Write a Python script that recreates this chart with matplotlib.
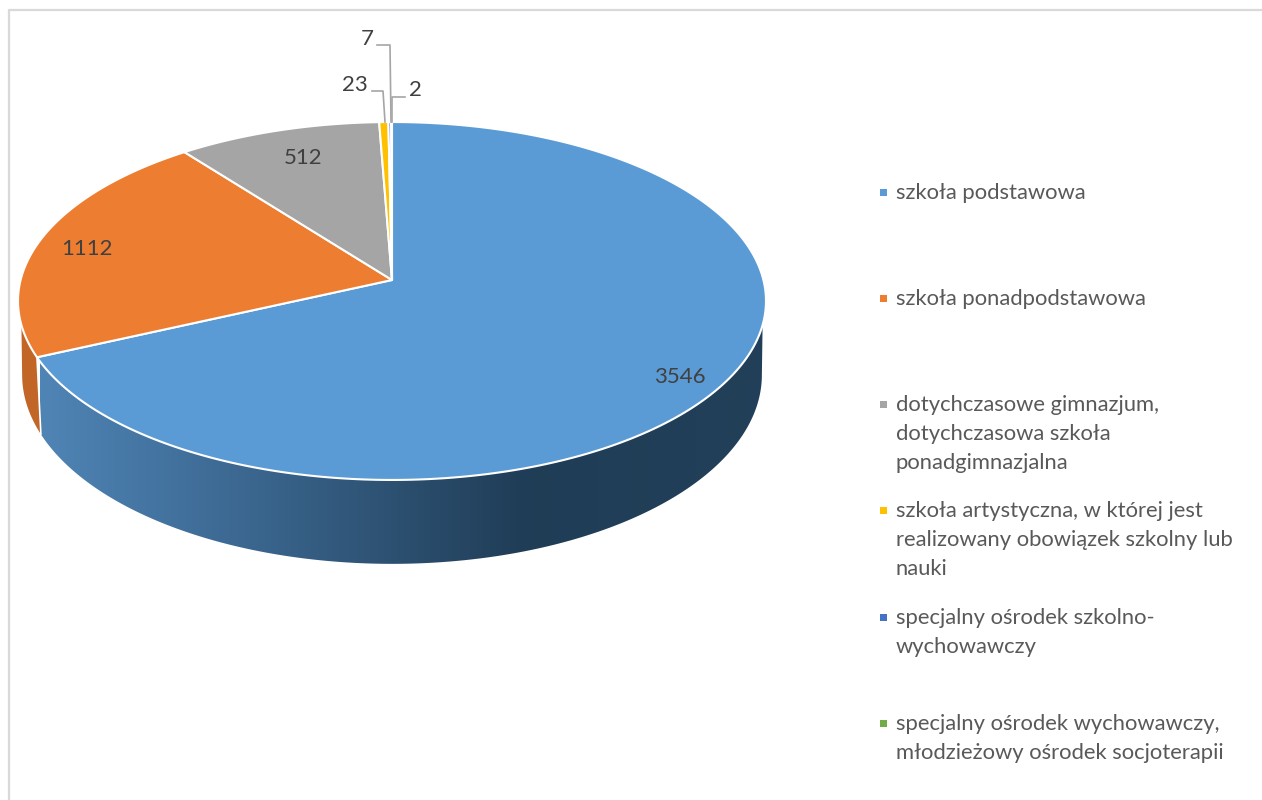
import numpy as np
import matplotlib
matplotlib.use("Agg")
import matplotlib.pyplot as plt
from matplotlib.patches import Polygon, Rectangle
from matplotlib.colors import to_rgb

categories = ["szkoła podstawowa", "szkoła ponadpodstawowa",
              "dotychczasowe gimnazjum,\ndotychczasowa szkoła\nponadgimnazjalna",
              "szkoła artystyczna, w której jest\nrealizowany obowiązek szkolny lub\nnauki",
              "specjalny ośrodek szkolno-\nwychowawczy",
              "specjalny ośrodek wychowawczy,\nmłodzieżowy ośrodek socjoterapii"]
values = [3546, 1112, 512, 23, 7, 2]
colors = ["#5B9BD5", "#ED7D31", "#A5A5A5", "#FFC000", "#4472C4", "#70AD47"]

FONT = "Lato"
fig = plt.figure(figsize=(12.62, 8), dpi=100)
ax = fig.add_axes([0, 0, 1, 1])
ax.axis("off")

# Perspective projection of the pie disc
CX, CY, A, B, K = 392.0, 280.0, 371.4, 176.5, 0.1173
def top(t):
    X, Y = np.sin(t), np.cos(t)
    w = 1 + K * Y
    return CX + A * X / w, CY - B * Y / w
def bottom(t):
    x, y = top(t)
    return CX + (x - CX) * 0.989, y + 72.7 + 0.056 * (y - CY)

edges = np.concatenate([[0], np.cumsum(values)]) / sum(values) * 2 * np.pi

T_RIM = 1.821      # where the silhouette leaves the top rim
T_BOT = 1.688      # where the silhouette meets the lower rim (widest point)

def wall_outline(t_top0, t_top1, t_bot0, t_bot1):
    ts = np.linspace(t_top0, t_top1, 400)
    tb = np.linspace(t_bot1, t_bot0, 400)
    xa, ya = top(ts); xb, yb = bottom(tb)
    return np.column_stack([np.r_[xa, xb], np.r_[ya, yb]])

# orange side wall
oc = tuple(c * 0.82 for c in to_rgb(colors[1]))
ax.add_patch(Polygon(wall_outline(edges[1], 2 * np.pi - T_RIM, edges[1], 2 * np.pi - T_BOT),
                     closed=True, facecolor=oc, edgecolor="none", zorder=2))

# blue side wall with a horizontal gradient, clipped to the wall shape
blue_outline = wall_outline(T_RIM, edges[1], T_BOT, edges[1])
clip = Polygon(blue_outline, closed=True, transform=ax.transData, facecolor="none", edgecolor="none")
ax.add_patch(clip)
grad_x = np.linspace(0, 1, 512)
pos = [0.0, 0.22, 0.66, 1.0]
stops = [(0.31, 0.52, 0.71), (0.25, 0.43, 0.60), (0.125, 0.24, 0.34), (0.135, 0.25, 0.35)]
grad = np.stack([np.interp(grad_x, pos, [s[c] for s in stops]) for c in range(3)], axis=-1)[None, :, :]
im = ax.imshow(grad, extent=(40, 770, 600, 300), aspect="auto", zorder=2.5, interpolation="bilinear")
im.set_clip_path(clip)

# white seam where the blue and orange walls meet
xa, ya = top(edges[1]); xb, yb = bottom(edges[1])
ax.plot([xa, xb], [ya, yb], color="white", lw=1.2, zorder=3)

ax.set_xlim(0, 1262); ax.set_ylim(800, 0)

# top face
for i in range(len(values)):
    ts = np.linspace(edges[i], edges[i + 1], 300)
    px, py = top(ts)
    pts = np.column_stack([np.r_[CX, px], np.r_[CY, py]])
    ax.add_patch(Polygon(pts, closed=True, facecolor=colors[i], edgecolor="white",
                         lw=1.5, joinstyle="round", zorder=4))

# chart frame
ax.plot([9, 9, 1262], [800, 10, 10], color="#D9D9D9", lw=1.6, zorder=1)

# data labels
lab = dict(color="#404040", fontsize=16, family=FONT, ha="center", va="center", zorder=6)
ax.text(680, 377, str(values[0]), **lab)
ax.text(87, 249, str(values[1]), **lab)
ax.text(303, 158, str(values[2]), **lab)
ax.text(355, 85, str(values[3]), **lab)
ax.text(367, 39, str(values[4]), **lab)
ax.text(415, 90, str(values[5]), **lab)

# leader lines
lead = dict(color="#A6A6A6", lw=1.2, zorder=5)
ax.plot([372, 383, 385], [91, 91, 122], **lead)
ax.plot([377, 390, 391], [45, 45, 122], **lead)
ax.plot([405, 392, 392], [97, 97, 122], **lead)

# legend
ys = [192, 298, 404, 510, 617, 723]
for c, name, y in zip(colors, categories, ys):
    ax.add_patch(Rectangle((879.5, y - 3.5), 7, 7, facecolor=c, edgecolor="none", zorder=5))
    ax.text(895.5, y - 9, name, color="#595959", fontsize=15.85, family=FONT,
            ha="left", va="top", linespacing=1.57, zorder=5)

fig.savefig("out.png", dpi=100)
